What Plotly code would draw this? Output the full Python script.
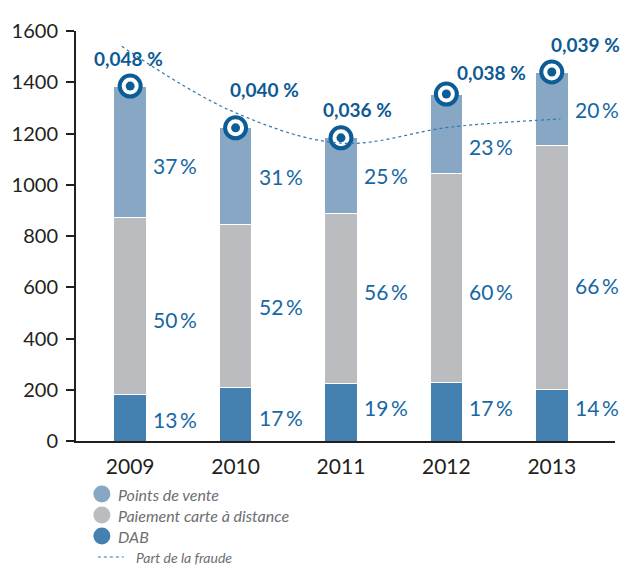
import plotly.graph_objects as go

# ---- data -------------------------------------------------------------
years = ["2009", "2010", "2011", "2012", "2013"]
totals = [1385, 1222, 1183, 1354, 1440]          # total fraud amount per year
pct_dab = [13, 17, 19, 17, 14]                   # share DAB (%)
pct_distance = [50, 52, 56, 60, 66]              # share paiement à distance (%)
pct_points = [37, 31, 25, 23, 20]                # share points de vente (%)
fraud_share = [0.048, 0.040, 0.036, 0.038, 0.039]
fraud_labels = ["0,048 %", "0,040 %", "0,036 %", "0,038 %", "0,039 %"]
y_ticks = [0, 200, 400, 600, 800, 1000, 1200, 1400, 1600]

series_names = ["DAB", "Paiement carte à distance", "Points de vente"]

# ---- styles -----------------------------------------------------------
C_DAB = "#4581b0"
C_DIST = "#bbbcc0"
C_POINTS = "#88a7c5"
C_RING = "#0c5c96"
C_PCT = "#1767a2"
C_AXIS = "#231f20"
C_LEG = "#6d6e71"
C_TREND = "#2f78b0"
FONT = "Lato"

W, H = 634, 565
M_L, M_R, M_T, M_B = 73, 19, 31, 124
PW, PH = W - M_L - M_R, H - M_T - M_B


def px_x(px):
    return (px - M_L) / PW


def px_y(py):
    return (H - M_B - py) / PH


segments = [
    [t * p / 100 for t, p in zip(totals, pct_dab)],
    [t * p / 100 for t, p in zip(totals, pct_distance)],
    [t * p / 100 for t, p in zip(totals, pct_points)],
]
pcts = [pct_dab, pct_distance, pct_points]
colors = [C_DAB, C_DIST, C_POINTS]

fig = go.Figure()

for name, vals, col in zip(series_names, segments, colors):
    fig.add_trace(go.Bar(
        x=years, y=vals, name=name, width=0.31,
        marker=dict(color=col, line=dict(color="white", width=1)),
        showlegend=False, hoverinfo="skip",
    ))

# fraud-share trend on its own overlay axes
fig.add_trace(go.Scatter(
    x=list(range(len(years))), y=fraud_share, xaxis="x2", yaxis="y2",
    mode="lines", line=dict(color=C_TREND, width=1.2, dash="dot", shape="spline"),
    showlegend=False, hoverinfo="skip",
))

# ring markers at the top of each bar
fig.add_trace(go.Scatter(
    x=years, y=totals, mode="markers",
    marker=dict(size=21, color="white", line=dict(color=C_RING, width=4)),
    showlegend=False, hoverinfo="skip",
))
fig.add_trace(go.Scatter(
    x=years, y=totals, mode="markers",
    marker=dict(size=9, color=C_RING),
    showlegend=False, hoverinfo="skip",
))

annotations = []

# percentage labels beside each segment (small vertical nudges in px);
# on a category axis annotations are positioned by category index
nudges = [
    [2, 3, -5, -4, -8],      # DAB
    [13, 0, -7, 14, 18],     # distance
    [14, 0, 0, 13, 1],       # points de vente
]
for k in range(3):
    base = [sum(segments[j][i] for j in range(k)) for i in range(len(years))]
    for i in range(len(years)):
        mid = base[i] + segments[k][i] / 2
        annotations.append(dict(
            x=i, y=mid, xref="x", yref="y", text=f"{pcts[k][i]}\u2009%",
            showarrow=False, xanchor="left", yanchor="middle",
            xshift=21, yshift=-nudges[k][i],
            font=dict(family=FONT, size=21, color=C_PCT),
        ))

# fraud-share labels near the ring markers
label_offsets = [(-2, -28), (29, -38), (17, -28), (45, -22), (34, -28)]
for i in range(len(years)):
    dx, dy = label_offsets[i]
    annotations.append(dict(
        x=i, y=totals[i], xref="x", yref="y", text=f"<b>{fraud_labels[i]}</b>",
        showarrow=False, xanchor="center", yanchor="middle",
        xshift=dx, yshift=-dy,
        font=dict(family=FONT, size=19, color="#0d5a94"),
    ))

# legend drawn by hand
shapes = []
legend_rows = [(494, C_POINTS, "Points de vente"),
               (515, C_DIST, "Paiement carte à distance"),
               (536, C_DAB, "DAB")]
for py, col, txt in legend_rows:
    shapes.append(dict(
        type="circle", xref="paper", yref="paper",
        xsizemode="pixel", ysizemode="pixel",
        xanchor=px_x(99), yanchor=px_y(py),
        x0=-8.5, x1=8.5, y0=-8.5, y1=8.5,
        fillcolor=col, line=dict(width=0),
    ))
    annotations.append(dict(
        x=px_x(113), y=px_y(py), xref="paper", yref="paper", text=txt,
        showarrow=False, xanchor="left", yanchor="middle",
        font=dict(family=FONT, size=16, color=C_LEG, style="italic"),
    ))
shapes.append(dict(
    type="line", xref="paper", yref="paper",
    x0=px_x(95), x1=px_x(121), y0=px_y(557), y1=px_y(557),
    line=dict(color=C_TREND, width=1.2, dash="dot"),
))
annotations.append(dict(
    x=px_x(131), y=px_y(557), xref="paper", yref="paper", text="Part de la fraude",
    showarrow=False, xanchor="left", yanchor="middle",
    font=dict(family=FONT, size=14, color=C_LEG, style="italic"),
))

fig.update_layout(
    width=W, height=H,
    margin=dict(l=M_L, r=M_R, t=M_T, b=M_B, pad=0),
    paper_bgcolor="white", plot_bgcolor="white",
    barmode="stack",
    showlegend=False,
    xaxis=dict(
        type="category", range=[-0.514, 4.6],
        showline=True, linewidth=2, linecolor=C_AXIS,
        ticks="", showgrid=False, zeroline=False,
        tickfont=dict(family=FONT, size=21, color=C_AXIS),
        ticklabelstandoff=6,
    ),
    yaxis=dict(
        range=[0, 1600], tickvals=y_ticks,
        showline=True, linewidth=2, linecolor=C_AXIS,
        ticks="outside", ticklen=8, tickwidth=2, tickcolor=C_AXIS,
        showgrid=False, zeroline=False,
        tickfont=dict(family=FONT, size=20, color=C_AXIS),
        ticklabelstandoff=4,
    ),
    xaxis2=dict(overlaying="x", range=[-0.417, 4.499], visible=False),
    yaxis2=dict(overlaying="y", range=[-0.0009, 0.0499], visible=False),
    annotations=annotations,
    shapes=shapes,
)

fig.write_html("out.html")
